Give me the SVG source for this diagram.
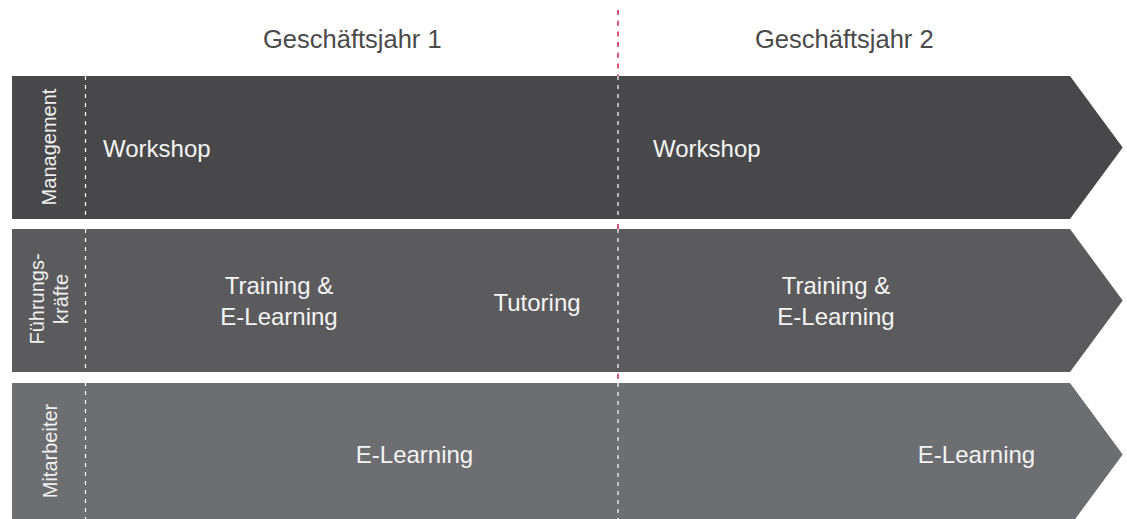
<svg xmlns="http://www.w3.org/2000/svg" width="1127" height="519" viewBox="0 0 1127 519">
<style>
.hdr{font-family:"Liberation Sans",Arial,sans-serif;font-size:25.5px;fill:#4a4a4a}
.lbl{font-family:"Liberation Sans",Arial,sans-serif;font-size:24px;fill:#f4f4f4}
.side{font-family:"Liberation Sans",Arial,sans-serif;font-size:20px;fill:#f0f0f0;text-anchor:middle}
.mid{text-anchor:middle}
.wd{stroke:#ffffff;stroke-width:1.2;stroke-dasharray:4 5;fill:none}
.rd{stroke:#c8204f;stroke-width:1.5;stroke-dasharray:5 5.7;fill:none}
</style>
<rect width="1127" height="519" fill="#ffffff"/>
<g id="headers">
<text class="hdr" x="263" y="48">Geschäftsjahr 1</text>
<text class="hdr" x="755" y="48">Geschäftsjahr 2</text>
</g>
<g id="guides-back">
<line class="rd" x1="618" y1="10" x2="618" y2="519"/>
</g>
<g id="row-management">
<polygon points="12,76 1070,76 1122.7,147.5 1070,219 12,219" fill="#48484a"/>
<text class="side" transform="translate(56,147) rotate(-90)">Management</text>
<text class="lbl" x="103" y="157">Workshop</text>
<text class="lbl" x="653" y="157">Workshop</text>
</g>
<g id="row-fuehrungskraefte">
<polygon points="12,229 1070,229 1122.7,300.5 1070,372 12,372" fill="#5b5b5d"/>
<text class="side" transform="translate(43.5,299) rotate(-90)">Führungs-</text>
<text class="side" transform="translate(67.5,299) rotate(-90)">kräfte</text>
<text class="lbl mid" x="279" y="294">Training &amp;</text>
<text class="lbl mid" x="279" y="325">E-Learning</text>
<text class="lbl mid" x="537" y="311">Tutoring</text>
<text class="lbl mid" x="836" y="294">Training &amp;</text>
<text class="lbl mid" x="836" y="325">E-Learning</text>
</g>
<g id="row-mitarbeiter">
<polygon points="12,383 1070,383 1122.7,454.5 1070,526 12,526" fill="#6d6e71"/>
<text class="side" transform="translate(57,451) rotate(-90)">Mitarbeiter</text>
<text class="lbl mid" x="414.5" y="463">E-Learning</text>
<text class="lbl mid" x="976.5" y="463">E-Learning</text>
</g>
<g id="connectors">
<line class="wd" x1="85.5" y1="76" x2="85.5" y2="519"/>
<line class="wd" x1="618" y1="76" x2="618" y2="219"/>
<line class="wd" x1="618" y1="229" x2="618" y2="372"/>
<line class="wd" x1="618" y1="383" x2="618" y2="519"/>
</g>
</svg>
